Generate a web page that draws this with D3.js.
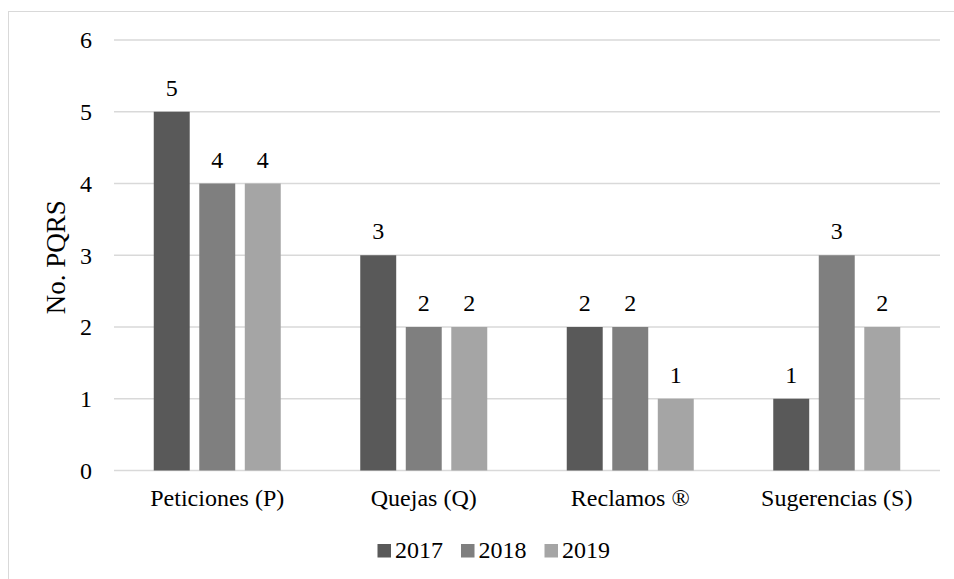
<!DOCTYPE html>
<html>
<head>
<meta charset="utf-8">
<script src="https://cdn.jsdelivr.net/npm/d3@7"></script>
<style>
  body { margin: 0; background: #fff; }
  svg text { font-family: "Liberation Serif", "Times New Roman", serif; fill: #000; }
</style>
</head>
<body>
<div class="chart"></div>
<script>
// data
const categories = ['Peticiones (P)', 'Quejas (Q)', 'Reclamos ®', 'Sugerencias (S)']
const years = ['2017', '2018', '2019']
const values2017 = [5, 3, 2, 1]
const values2018 = [4, 2, 2, 3]
const values2019 = [4, 2, 1, 2]
const yTicks = [0, 1, 2, 3, 4, 5, 6]
const colors = ['#595959', '#7f7f7f', '#a5a5a5']

const width = 954
const height = 579
const margin = { left: 114, right: 14, top: 40, bottom: 108.5 }
const fontSize = '24px'

const svg = d3.select('.chart')
  .append('svg')
  .attr('width', width)
  .attr('height', height)

// outer frame (only left and top edges fall inside the picture)
svg.append('rect')
  .attr('x', 8.5).attr('y', 11.5)
  .attr('width', 960).attr('height', 600)
  .attr('fill', 'none')
  .attr('stroke', '#d9d9d9')
  .attr('stroke-width', 1)

const x0 = d3.scaleBand()
  .domain(categories)
  .range([margin.left, width - margin.right])

const groupWidth = 127
const x1 = d3.scaleBand()
  .domain(years)
  .range([0, groupWidth])
  .paddingInner(0.21)

const y = d3.scaleLinear()
  .domain([0, 6])
  .range([height - margin.bottom, margin.top])

// gridlines
svg.append('g')
  .selectAll('line')
  .data(yTicks)
  .enter()
  .append('line')
  .attr('x1', margin.left)
  .attr('x2', width - margin.right)
  .attr('y1', d => y(d))
  .attr('y2', d => y(d))
  .attr('stroke', '#d9d9d9')
  .attr('stroke-width', 1.5)

// y axis labels
const yAxis = d3.axisLeft(y)
  .tickValues(yTicks)
  .tickFormat(d3.format('d'))
  .tickSize(0)
  .tickPadding(0)
const yg = svg.append('g')
  .attr('transform', `translate(92, 0)`)
  .call(yAxis)
yg.select('.domain').remove()
yg.selectAll('text')
  .style('font-size', fontSize)
  .attr('dy', '0.33em')

// x axis labels
const xAxis = d3.axisBottom(x0).tickSize(0).tickPadding(0)
const xg = svg.append('g')
  .attr('transform', `translate(0, ${y(0)})`)
  .call(xAxis)
xg.select('.domain').remove()
xg.selectAll('text')
  .style('font-size', fontSize)
  .attr('y', 35.5)
  .attr('dy', 0)

// axis title
svg.append('text')
  .attr('transform', `translate(65, ${(y(0) + y(6)) / 2 + 2}) rotate(-90)`)
  .attr('text-anchor', 'middle')
  .style('font-size', '27px')
  .text('No. PQRS')

const series = [values2017, values2018, values2019]
const rows = []
categories.forEach((c, i) => {
  years.forEach((yr, j) => {
    rows.push({ cat: c, year: yr, value: series[j][i], color: colors[j] })
  })
})

const groupOffset = (x0.bandwidth() - groupWidth) / 2

svg.append('g')
  .selectAll('rect')
  .data(rows)
  .enter()
  .append('rect')
  .attr('x', d => x0(d.cat) + groupOffset + x1(d.year))
  .attr('y', d => y(d.value))
  .attr('width', x1.bandwidth())
  .attr('height', d => y(0) - y(d.value))
  .attr('fill', d => d.color)

// value labels
svg.append('g')
  .selectAll('text')
  .data(rows)
  .enter()
  .append('text')
  .attr('x', d => x0(d.cat) + groupOffset + x1(d.year) + x1.bandwidth() / 2)
  .attr('y', d => y(d.value) - 16)
  .attr('text-anchor', 'middle')
  .style('font-size', fontSize)
  .text(d => d.value)

// legend
const legend = svg.append('g')
  .selectAll('g')
  .data(years)
  .enter()
  .append('g')
  .attr('transform', (d, i) => `translate(${377.5 + i * 83.5}, 558)`)

legend.append('rect')
  .attr('x', 0).attr('y', -14)
  .attr('width', 13.5).attr('height', 13.5)
  .attr('fill', (d, i) => colors[i])

legend.append('text')
  .attr('x', 17.5)
  .attr('y', 0)
  .style('font-size', fontSize)
  .text(d => d)
</script>
</body>
</html>
